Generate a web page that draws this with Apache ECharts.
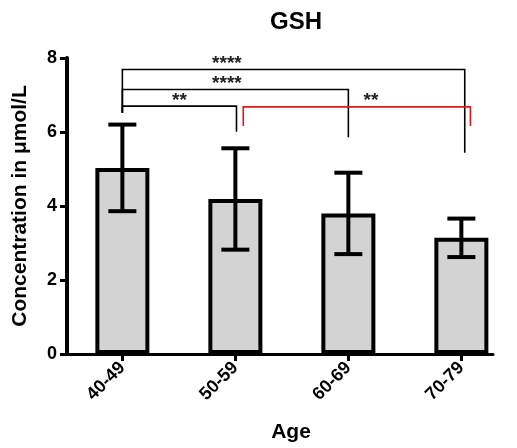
<!DOCTYPE html>
<html>
<head>
<meta charset="utf-8">
<script src="https://cdn.jsdelivr.net/npm/echarts@6/dist/echarts.min.js"></script>
<style>
html,body{margin:0;padding:0;background:#fff;}
#c{width:517px;height:448px;}
</style>
</head>
<body>
<div id="c"></div>
<script>
// ---- data ----
const categories = ['40-49', '50-59', '60-69', '70-79'];
const means = [5.03, 4.19, 3.80, 3.14];
const sds = [1.17, 1.37, 1.10, 0.52];
const yTicks = [0, 2, 4, 6, 8];

// significance brackets (data coordinates)
const bracketLeft = [0, 0, 0, 1.07];
const bracketRight = [3.03, 2.0, 1.01, 3.08];
const bracketLevel = [7.69, 7.15, 6.70, 6.68];
const bracketLeftEnd = [6.52, 6.52, 6.52, 6.16];
const bracketRightEnd = [5.44, 5.86, 6.01, 6.16];
const bracketLabels = ['****', '****', '**', '**'];
const bracketLabelX = [0.925, 0.925, 0.505, 2.20];
const bracketLabelY = [7.84, 7.30, 6.84, 6.84];
const highlightBracket = 3;

const FONT = '"Liberation Sans", Arial, Helvetica, sans-serif';

const chart = echarts.init(document.getElementById('c'), null, {renderer: 'canvas'});

const barData = categories.map((c, i) => [i, means[i]]);
const errData = categories.map((c, i) => [i, means[i], sds[i]]);
const bracketData = bracketLabels.map((l, i) => [bracketLeft[i], bracketRight[i], bracketLevel[i], bracketLeftEnd[i], bracketRightEnd[i], bracketLabelX[i], bracketLabelY[i], i]);

const option = {
  animation: false,
  backgroundColor: '#fff',
  title: {
    text: 'GSH',
    left: 291,
    top: 5,
    textAlign: 'center',
    textStyle: {fontFamily: FONT, fontWeight: 'bold', fontSize: 24, color: '#000'}
  },
  grid: {left: 67, right: 24, top: 58, bottom: 94, containLabel: false},
  xAxis: {
    type: 'value',
    min: -0.49,
    max: 3.28,
    splitLine: {show: false},
    axisLine: {show: true, onZero: false, lineStyle: {color: '#000', width: 3}},
    axisTick: {show: true, customValues: [0, 1, 2, 3], length: 7, lineStyle: {color: '#000', width: 3}},
    axisLabel: {
      customValues: [0, 1, 2, 3],
      formatter: v => categories[Math.round(v)],
      rotate: 45,
      margin: 11,
      fontFamily: FONT, fontWeight: 'bold', fontSize: 18, color: '#000'
    },
    name: 'Age',
    nameLocation: 'middle',
    nameGap: 68,
    nameTextStyle: {fontFamily: FONT, fontWeight: 'bold', fontSize: 21, color: '#000', padding: [0, 0, 0, 22]}
  },
  yAxis: {
    type: 'value',
    min: 0,
    max: 8,
    interval: 2,
    splitLine: {show: false},
    axisLine: {show: true, onZero: false, lineStyle: {color: '#000', width: 4}},
    axisTick: {show: true, length: 7, lineStyle: {color: '#000', width: 3}},
    axisLabel: {
      formatter: v => yTicks.includes(v) ? String(v) : '',
      margin: 10,
      fontFamily: FONT, fontWeight: 'bold', fontSize: 18, color: '#000'
    },
    name: 'Concentration in μmol/L',
    nameLocation: 'middle',
    nameGap: 36,
    nameTextStyle: {fontFamily: FONT, fontWeight: 'bold', fontSize: 21, color: '#000'}
  },
  series: [
    {
      type: 'bar',
      data: barData,
      barWidth: 54,
      itemStyle: {color: '#d3d3d3', borderColor: '#000', borderWidth: 4},
      z: 2
    },
    {
      type: 'custom',
      data: errData,
      z: 3,
      renderItem: function (params, api) {
        const x = api.value(0), m = api.value(1), s = api.value(2);
        const top = api.coord([x, m + s]);
        const bot = api.coord([x, m - s]);
        const w = 14;
        const st = {stroke: '#000', lineWidth: 4};
        return {
          type: 'group',
          children: [
            {type: 'line', shape: {x1: top[0], y1: top[1], x2: bot[0], y2: bot[1]}, style: st},
            {type: 'line', shape: {x1: top[0] - w, y1: top[1], x2: top[0] + w, y2: top[1]}, style: st},
            {type: 'line', shape: {x1: bot[0] - w, y1: bot[1], x2: bot[0] + w, y2: bot[1]}, style: st}
          ]
        };
      }
    },
    {
      type: 'custom',
      data: bracketData,
      z: 4,
      clip: false,
      renderItem: function (params, api) {
        const x1 = api.value(0), x2 = api.value(1), y = api.value(2), d1 = api.value(3), d2 = api.value(4);
        const lx = api.value(5), ly = api.value(6), idx = api.value(7);
        const col = idx === highlightBracket ? '#e8161b' : '#000';
        const p1 = api.coord([x1, d1]), p2 = api.coord([x1, y]), p3 = api.coord([x2, y]), p4 = api.coord([x2, d2]);
        const lp = api.coord([lx, ly]);
        return {
          type: 'group',
          children: [
            {type: 'polyline', shape: {points: [p1, p2, p3, p4]}, style: {stroke: col, lineWidth: 1.6, fill: null}},
            {type: 'text', x: lp[0], y: lp[1], style: {text: bracketLabels[idx], fill: '#222', font: 'bold 19px ' + FONT, align: 'center', verticalAlign: 'middle'}}
          ]
        };
      }
    }
  ]
};
chart.setOption(option);
</script>
</body>
</html>
